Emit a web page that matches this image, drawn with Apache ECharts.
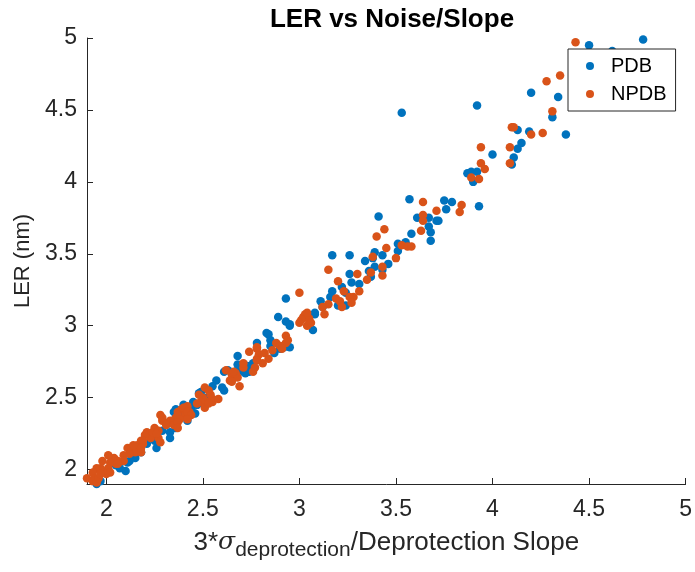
<!DOCTYPE html>
<html>
<head>
<meta charset="utf-8">
<script src="https://cdn.jsdelivr.net/npm/echarts@6/dist/echarts.min.js"></script>
<style>html,body{margin:0;padding:0;background:#fff;}#c{width:695px;height:572px;}</style>
</head>
<body>
<div id="c"></div>
<script>
const titleText = 'LER vs Noise/Slope';
const seriesNames = ['PDB', 'NPDB'];
const xTicks = [2, 2.5, 3, 3.5, 4, 4.5, 5];
const yTicks = [2, 2.5, 3, 3.5, 4, 4.5, 5];

const pdbData = [
[4.78,4.99],[4.50,4.95],[4.62,4.91],[4.20,4.62],[4.34,4.59],[4.31,4.45],[4.38,4.33],[3.53,4.48],[3.92,4.53],[4.13,4.36],
[4.19,4.35],[4.15,4.27],[4.13,4.23],[4.00,4.19],[4.11,4.17],[4.10,4.12],[3.87,4.06],[3.89,4.07],[3.92,4.07],[3.90,4.00],
[3.57,3.88],[3.75,3.87],[3.79,3.86],[3.76,3.81],[3.93,3.83],[3.41,3.76],[3.61,3.75],[3.67,3.75],[3.71,3.73],[3.72,3.73],
[3.67,3.69],[3.68,3.65],[3.58,3.64],[3.68,3.59],[3.51,3.57],[3.55,3.58],[3.51,3.52],[3.39,3.51],[3.38,3.47],[3.43,3.49],
[3.34,3.45],[3.46,3.43],[3.43,3.39],[3.39,3.41],[3.36,3.38],[3.37,3.34],[3.17,3.49],[3.26,3.49],[3.26,3.36],[3.27,3.30],
[3.31,3.29],[3.17,3.24],[3.22,3.27],[3.24,3.23],[3.16,3.20],[3.11,3.17],[3.12,3.13],[3.20,3.14],[3.24,3.14],[3.08,3.09],
[2.93,3.19],[2.89,3.06],[2.93,3.03],[2.95,3.01],[2.95,3.00],[3.08,3.08],[3.07,2.97],[2.84,2.94],[2.78,2.88],[2.83,2.95],
[2.85,2.90],[2.85,2.86],[2.87,2.81],[2.90,2.84],[2.92,2.85],[2.95,2.85],[2.68,2.79],[2.76,2.74],[2.73,2.72],[2.71,2.71],
[2.68,2.73],[2.68,2.69],[2.74,2.68],[2.71,2.68],[2.72,2.67],[2.63,2.69],[2.61,2.68],[2.57,2.62],[2.61,2.55],[2.60,2.57],
[2.48,2.53],[2.49,2.54],[2.52,2.50],[2.45,2.47],[2.46,2.39],[2.47,2.45],[2.44,2.42],[2.43,2.41],[2.42,2.41],[2.35,2.40],
[2.40,2.45],[2.36,2.42],[2.36,2.36],[2.38,2.36],[2.42,2.34],[2.32,2.32],[2.36,2.29],[2.33,2.26],[2.29,2.27],[2.33,2.22],
[2.26,2.24],[2.26,2.15],[2.21,2.18],[2.13,2.12],[2.15,2.08],[2.12,2.06],[2.09,2.06],[2.11,2.05],[2.07,2.01],[2.10,1.99],
[1.95,1.90],[1.97,1.92],[2.05,2.03],[2.18,2.12],[2.25,2.20],[2.40,2.38],[2.55,2.58],[2.50,2.48]
];

const npdbData = [
[4.43,4.97],[4.28,4.70],[4.35,4.74],[4.31,4.49],[4.26,4.34],[4.10,4.38],[4.11,4.38],[4.20,4.33],[3.94,4.24],[4.09,4.24],
[4.09,4.13],[3.94,4.13],[3.96,4.09],[3.89,4.03],[3.93,4.02],[3.64,3.86],[3.84,3.84],[3.71,3.80],[3.83,3.79],[3.64,3.77],
[3.64,3.73],[3.44,3.67],[3.40,3.62],[3.63,3.66],[3.53,3.56],[3.56,3.55],[3.58,3.55],[3.45,3.54],[3.38,3.48],[3.50,3.47],
[3.43,3.41],[3.43,3.35],[3.37,3.37],[3.35,3.32],[3.15,3.39],[3.30,3.36],[3.20,3.31],[3.23,3.24],[3.31,3.24],[3.28,3.20],
[3.26,3.20],[3.19,3.19],[3.21,3.17],[3.00,3.23],[3.27,3.16],[3.22,3.13],[3.15,3.15],[3.12,3.13],[3.13,3.08],[3.03,3.08],
[3.02,3.06],[3.05,3.05],[3.04,3.07],[3.05,3.04],[3.01,3.04],[3.04,3.00],[3.06,3.02],[3.04,3.09],[3.00,3.02],[2.93,2.93],
[2.94,2.90],[2.93,2.88],[2.88,2.88],[2.90,2.86],[2.91,2.84],[2.86,2.83],[2.74,2.82],[2.78,2.84],[2.79,2.80],[2.82,2.81],
[2.84,2.77],[2.81,2.74],[2.78,2.77],[2.78,2.85],[2.78,2.76],[2.71,2.71],[2.77,2.71],[2.76,2.68],[2.71,2.74],[2.62,2.69],
[2.65,2.66],[2.68,2.64],[2.64,2.62],[2.67,2.67],[2.65,2.61],[2.69,2.58],[2.66,2.68],[2.51,2.57],[2.53,2.55],[2.54,2.52],
[2.52,2.47],[2.55,2.49],[2.55,2.47],[2.50,2.50],[2.49,2.47],[2.58,2.49],[2.48,2.52],[2.47,2.46],[2.51,2.43],[2.53,2.46],
[2.42,2.44],[2.43,2.40],[2.39,2.42],[2.41,2.38],[2.37,2.40],[2.36,2.36],[2.40,2.43],[2.42,2.40],[2.44,2.38],[2.37,2.38],
[2.38,2.35],[2.42,2.35],[2.28,2.38],[2.29,2.34],[2.33,2.34],[2.31,2.31],[2.35,2.31],[2.37,2.33],[2.25,2.29],[2.21,2.26],
[2.23,2.22],[2.20,2.24],[2.18,2.20],[2.24,2.26],[2.27,2.27],[2.27,2.22],[2.28,2.19],[2.29,2.36],[2.37,2.29],[2.26,2.25],
[2.11,2.15],[2.13,2.15],[2.16,2.17],[2.19,2.18],[2.15,2.12],[2.18,2.12],[2.12,2.11],[2.09,2.10],[2.19,2.20],[2.18,2.15],
[2.14,2.17],[2.04,2.08],[2.02,2.05],[2.05,2.04],[2.06,2.06],[2.01,2.01],[1.98,1.99],[1.97,2.01],[2.00,1.97],[2.02,1.98],
[1.95,2.01],[1.93,1.98],[1.94,1.94],[1.90,1.94],[1.93,1.92],[1.95,1.91],[1.96,1.94],[2.01,2.10],[1.98,2.06],[2.09,2.06],
[2.06,2.04],[1.97,1.97]
];

const FONT = 'Liberation Sans';
const AX = '#262626';
const chart = echarts.init(document.getElementById('c'), null, {renderer: 'canvas'});
const axisCommon = {
  type: 'value',
  min: 1.9,
  max: 5,
  splitLine: {show: false},
  axisLine: {show: true, onZero: false, lineStyle: {color: AX, width: 1}},
  nameLocation: 'middle'
};
chart.setOption({
  animation: false,
  backgroundColor: '#fff',
  title: {
    text: titleText,
    left: 387, top: 2, textAlign: 'center',
    textStyle: {fontFamily: FONT, fontSize: 26, fontWeight: 'bold', color: '#000'}
  },
  grid: {left: 87, top: 38, width: 601, height: 446, containLabel: false},
  legend: {
    data: seriesNames,
    orient: 'vertical',
    left: 568, top: 49,
    itemWidth: 32, itemHeight: 8, itemGap: 8,
    padding: [7, 9, 7, 18],
    backgroundColor: '#fff',
    borderColor: AX, borderWidth: 1,
    textStyle: {fontFamily: FONT, fontSize: 20, color: '#000'},
    z: 10
  },
  xAxis: Object.assign({}, axisCommon, {
    name: '{n|3*}{s|σ}{sub|deprotection}{n|/Deprotection Slope}',
    nameGap: 40,
    nameTextStyle: {
      fontFamily: FONT, fontSize: 26, color: AX,
      rich: {
        n: {fontFamily: FONT, fontSize: 26, color: AX},
        s: {fontFamily: 'DejaVu Serif', fontStyle: 'italic', fontSize: 25, color: AX},
        sub: {fontFamily: FONT, fontSize: 21, color: AX, padding: [16, 0, 0, 0]}
      }
    },
    axisTick: {show: true, inside: true, length: 6, lineStyle: {color: AX}, customValues: xTicks},
    axisLabel: {customValues: xTicks, fontFamily: FONT, fontSize: 23, color: AX, margin: 14,
      formatter: v => String(v)}
  }),
  yAxis: Object.assign({}, axisCommon, {
    name: 'LER (nm)',
    nameGap: 46,
    nameTextStyle: {fontFamily: FONT, fontSize: 22, color: AX},
    axisTick: {show: true, inside: true, length: 6, lineStyle: {color: AX}, customValues: yTicks},
    axisLabel: {customValues: yTicks, fontFamily: FONT, fontSize: 23, color: AX, margin: 10,
      formatter: v => String(v)}
  }),
  series: [
    {name: seriesNames[0], type: 'scatter', data: pdbData, symbol: 'circle', symbolSize: 8.5,
      itemStyle: {color: '#0072BD', opacity: 1}},
    {name: seriesNames[1], type: 'scatter', data: npdbData, symbol: 'circle', symbolSize: 8.5,
      itemStyle: {color: '#D95319', opacity: 1}}
  ]
});
</script>
</body>
</html>
